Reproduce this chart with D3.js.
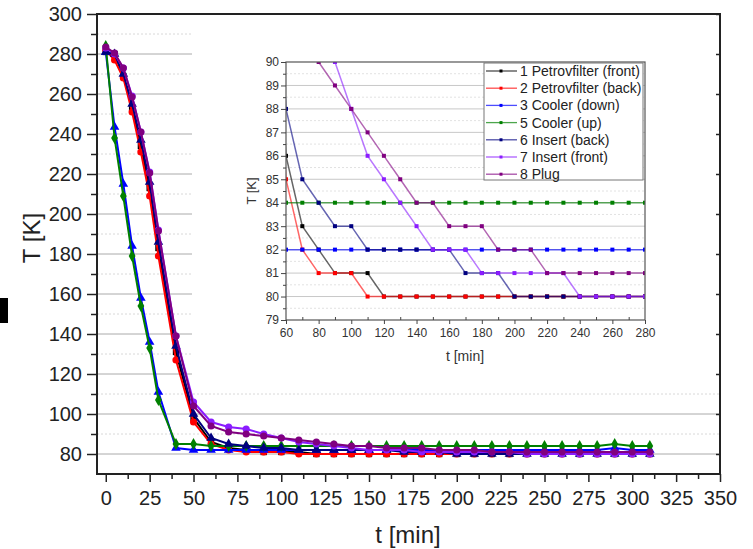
<!DOCTYPE html>
<html>
<head>
<meta charset="utf-8">
<script src="https://cdn.jsdelivr.net/npm/d3@7/dist/d3.min.js"></script>
<style>
body { margin: 0; background: #fff; }
svg { font-family: Arial, "Liberation Sans", sans-serif; }
</style>
</head>
<body>
<script>
// sampling times in minutes
var times = [0, 5, 10, 15, 20, 25, 30, 40, 50, 60, 70, 80, 90, 100, 110, 120, 130, 140, 150,
  160, 170, 180, 190, 200, 210, 220, 230, 240, 250, 260, 270, 280, 290, 300, 310];

// temperatures in K, one array per sensor
var petroFront = [281, 280, 269, 253, 234, 213, 183, 131, 98, 86, 83, 82, 81, 81, 81, 80, 80, 80, 80,
  80, 80, 80, 80, 80, 80, 80, 80, 80, 80, 80, 80, 80, 80, 80, 80];
var petroBack = [282, 277, 268, 251, 231, 209, 179, 127, 96, 85, 82, 81, 81, 81, 80, 80, 80, 80, 80,
  80, 80, 80, 80, 80, 80, 80, 80, 80, 80, 80, 80, 80, 80, 80, 80];
var coolerDown = [281, 243.5, 215, 184, 158, 136, 111, 83, 82, 82, 82, 82, 82, 82, 82, 82, 82, 82, 82,
  82, 82, 82, 82, 82, 82, 82, 82, 82, 82, 82, 82, 82, 83, 82, 82];
var coolerUp = [284, 238, 209, 179, 154, 133, 107, 85, 85, 84, 84, 84, 84, 84, 84, 84, 84, 84, 84,
  84, 84, 84, 84, 84, 84, 84, 84, 84, 84, 84, 84, 84, 85, 84, 84];
var insertBack = [281, 280, 270, 255, 237, 216, 186, 134, 100, 88, 85, 84, 83, 83, 82, 82, 82, 82, 82,
  82, 81, 81, 81, 80, 80, 80, 80, 80, 80, 80, 80, 80, 80, 80, 80];
var insertFront = [283, 280, 273, 259, 241, 221, 192, 139, 106, 96, 93.5, 92.5, 90, 88, 86, 85, 84, 83, 82,
  82, 82, 81, 81, 81, 81, 81, 81, 80, 80, 80, 80, 80, 80, 80, 80];
var plug = [283.5, 280.5, 273, 258.5, 241, 220.5, 191.5, 139, 104, 94, 91, 90, 89, 88, 87, 86, 85, 84, 84,
  83, 83, 83, 82, 82, 82, 81, 81, 81, 81, 81, 81, 81, 81, 81, 81];

var legendLabels = ["1 Petrovfilter (front)", "2 Petrovfilter (back)", "3 Cooler (down)",
  "5 Cooler (up)", "6 Insert (back)", "7 Insert (front)", "8 Plug"];
var seriesColors = ["#000000", "#ff0000", "#0000ff", "#008000", "#000080", "#8b1cff", "#800080"];
var seriesSymbols = [d3.symbolSquare, d3.symbolCircle, d3.symbolTriangle, d3.symbolDiamond,
  d3.symbolTriangle, d3.symbolCircle, d3.symbolCircle];

var mainXTicks = d3.range(0, 351, 25);
var mainYTicks = d3.range(80, 301, 20);
var insetXTicks = d3.range(60, 281, 20);
var insetYTicks = d3.range(79, 91, 1);

var allValues = [petroFront, petroBack, coolerDown, coolerUp, insertBack, insertFront, plug];
var series = allValues.map(function(v, i) {
  return { name: legendLabels[i], color: seriesColors[i], symbol: seriesSymbols[i],
    points: times.map(function(t, j) { return { t: t, T: v[j] }; }) };
});

var svg = d3.select('body').append('svg').attr('width', 753).attr('height', 549);

// ---------- main chart ----------
var x = d3.scaleLinear().domain([-5, 350]).range([97, 720]);
var y = d3.scaleLinear().domain([70, 300]).range([474, 14]);

// grid
svg.append('g').selectAll('line').data(d3.range(90, 300, 20)).enter().append('line')
  .attr('x1', x(-5)).attr('x2', x(350)).attr('y1', y).attr('y2', y)
  .attr('stroke', '#d8d8d8').attr('stroke-dasharray', '2,2');
svg.append('g').selectAll('line').data(mainYTicks.slice(0, -1)).enter().append('line')
  .attr('x1', x(-5)).attr('x2', x(350)).attr('y1', y).attr('y2', y)
  .attr('stroke', '#aaa');

// the inset sits on a white panel
svg.append('rect').attr('x', 192).attr('y', 15).attr('width', 527).attr('height', 371).attr('fill', '#fff');

var line = d3.line().x(function(d) { return x(d.t); }).y(function(d) { return y(d.T); });

series.forEach(function(s) {
  var g = svg.append('g');
  g.append('path').datum(s.points).attr('d', line)
    .attr('fill', 'none').attr('stroke', s.color).attr('stroke-width', 2);
  g.selectAll('path.m').data(s.points).enter().append('path').attr('class', 'm')
    .attr('d', d3.symbol().type(s.symbol).size(40))
    .attr('transform', function(d) { return 'translate(' + x(d.t) + ',' + y(d.T) + ')'; })
    .attr('fill', s.color);
});

// frame and axes
svg.append('rect').attr('x', 97).attr('y', 14).attr('width', 623).attr('height', 460)
  .attr('fill', 'none').attr('stroke', '#222').attr('stroke-width', 2);

var xAxis = svg.append('g').attr('transform', 'translate(0,474)')
  .call(d3.axisBottom(x).tickValues(mainXTicks).tickSize(8).tickPadding(9));
svg.append('g').attr('transform', 'translate(0,474)')
  .call(d3.axisBottom(x).tickValues(d3.range(12.5, 350, 25)).tickSize(5).tickFormat(''));
var yAxis = svg.append('g').attr('transform', 'translate(97,0)')
  .call(d3.axisLeft(y).tickValues(mainYTicks).tickSize(10).tickPadding(5));
svg.append('g').attr('transform', 'translate(97,0)')
  .call(d3.axisLeft(y).tickValues(d3.range(90, 300, 20)).tickSize(6).tickFormat(''));
svg.append('g').attr('transform', 'translate(720,0)')
  .call(d3.axisLeft(y).tickValues(mainYTicks).tickSize(4).tickFormat(''));

svg.selectAll('.domain').remove();
svg.selectAll('.tick line').attr('stroke', '#222').attr('stroke-width', 1.5);
xAxis.selectAll('text').attr('font-size', 20).attr('fill', '#222');
yAxis.selectAll('text').attr('font-size', 20).attr('fill', '#222');

svg.append('text').attr('x', 408).attr('y', 543).attr('text-anchor', 'middle')
  .attr('font-size', 24).attr('fill', '#222').text('t [min]');
svg.append('text').attr('transform', 'translate(31,238) rotate(-90)')
  .attr('text-anchor', 'middle').attr('dominant-baseline', 'central')
  .attr('font-size', 24).attr('fill', '#222').text('T [K]');

// small black mark at the left edge
svg.append('rect').attr('x', 0).attr('y', 298).attr('width', 8).attr('height', 25).attr('fill', '#000');

// ---------- inset ----------
var ix = d3.scaleLinear().domain([60, 280]).range([286, 645]);
var iy = d3.scaleLinear().domain([79, 90]).range([320, 62]);

var inset = svg.append('g');
inset.append('defs').append('clipPath').attr('id', 'iclip')
  .append('rect').attr('x', 286).attr('y', 62).attr('width', 359).attr('height', 258);

inset.append('g').selectAll('line').data(d3.range(79.5, 90, 1)).enter().append('line')
  .attr('x1', 286).attr('x2', 645).attr('y1', iy).attr('y2', iy)
  .attr('stroke', '#e2e2e2').attr('stroke-dasharray', '2,2');
inset.append('g').selectAll('line').data(d3.range(80, 90, 1)).enter().append('line')
  .attr('x1', 286).attr('x2', 645).attr('y1', iy).attr('y2', iy)
  .attr('stroke', '#c8c8c8');

var iline = d3.line().x(function(d) { return ix(d.t); }).y(function(d) { return iy(d.T); });
var plotArea = inset.append('g').attr('clip-path', 'url(#iclip)');
series.forEach(function(s) {
  var pts = s.points.filter(function(d) { return d.t <= 290; });
  plotArea.append('path').datum(pts).attr('d', iline)
    .attr('fill', 'none').attr('stroke', s.color).attr('stroke-width', 1.5).attr('stroke-opacity', 0.6);
  plotArea.selectAll('rect.m' + s.name.charAt(0)).data(pts.filter(function(d) {
      return d.t >= 60 && d.t <= 280 && d.T <= 90; }))
    .enter().append('rect')
    .attr('x', function(d) { return ix(d.t) - 2; }).attr('y', function(d) { return iy(d.T) - 2; })
    .attr('width', 4).attr('height', 4).attr('fill', s.color);
});

inset.append('rect').attr('x', 286).attr('y', 62).attr('width', 359).attr('height', 258)
  .attr('fill', 'none').attr('stroke', '#555').attr('stroke-width', 1.2);

var ixAxis = inset.append('g').attr('transform', 'translate(0,320)')
  .call(d3.axisBottom(ix).tickValues(insetXTicks).tickSize(4).tickPadding(4));
inset.append('g').attr('transform', 'translate(0,320)')
  .call(d3.axisTop(ix).tickValues(d3.range(70, 280, 20)).tickSize(3).tickFormat(''));
var iyAxis = inset.append('g').attr('transform', 'translate(286,0)')
  .call(d3.axisLeft(iy).tickValues(insetYTicks).tickSize(5).tickPadding(2));
inset.append('g').attr('transform', 'translate(286,0)')
  .call(d3.axisLeft(iy).tickValues(d3.range(79.5, 90, 1)).tickSize(3).tickFormat(''));
inset.selectAll('.domain').remove();
inset.selectAll('.tick line').attr('stroke', '#444');
inset.selectAll('.tick text').attr('font-size', 12).attr('fill', '#333');

inset.append('text').attr('x', 465).attr('y', 356).attr('text-anchor', 'middle')
  .attr('dominant-baseline', 'central').attr('font-size', 14).attr('fill', '#333').text('t [min]');
inset.append('text').attr('transform', 'translate(251,191) rotate(-90)')
  .attr('text-anchor', 'middle').attr('dominant-baseline', 'central')
  .attr('font-size', 13).attr('fill', '#333').text('T [K]');

// legend
var legend = inset.append('g');
legend.append('rect').attr('x', 484).attr('y', 63).attr('width', 159).attr('height', 117)
  .attr('fill', '#fff').attr('stroke', '#777');
var rows = legend.selectAll('g.row').data(series).enter().append('g')
  .attr('transform', function(d, i) { return 'translate(0,' + (71 + i * 17.2) + ')'; });
rows.append('line').attr('x1', 486).attr('x2', 517).attr('y1', 0).attr('y2', 0)
  .attr('stroke', function(d) { return d.color; }).attr('stroke-opacity', 0.7).attr('stroke-width', 1.3);
rows.append('rect').attr('x', 499.5).attr('y', -1.5).attr('width', 3).attr('height', 3)
  .attr('fill', function(d) { return d.color; });
rows.append('text').attr('x', 520).attr('y', 0).attr('dominant-baseline', 'central')
  .attr('font-size', 14).attr('fill', '#222').text(function(d) { return d.name; });
</script>
</body>
</html>
